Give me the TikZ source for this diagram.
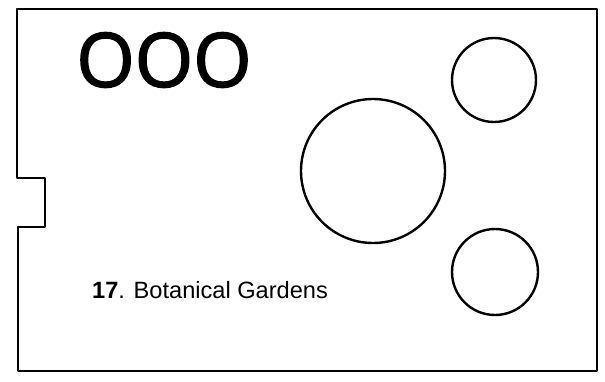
\documentclass[tikz,border=0pt]{standalone}
\usepackage{fontspec}
\setmainfont{Liberation Sans}
\newfontfamily\headfont[FakeBold=2]{Open Sans}
\usetikzlibrary{positioning}

\begin{document}
\begin{tikzpicture}[x=1pt,y=-1pt]
    \useasboundingbox (0,0) rectangle (605,381);
    % outline of the plot with the notch on the left
    \draw[line width=2.2pt,line join=round] (17,9) -- (597,9) -- (597,371) -- (18,371)
    -- (18,227) -- (45,227) -- (45,178) -- (17,178) -- cycle;
    \node [circle,draw,line width=2.4pt,minimum size=144pt] (pond) at (373,171) {};
    \node [circle,draw,line width=2.4pt,minimum size=84pt] (upper) at (494,80) {};
    \node [circle,draw,line width=2.4pt,minimum size=86pt] (lower) at (495,272) {};
    \node [font=\headfont\fontsize{75}{75}\selectfont,inner sep=0pt] (ooo) at (164,60)
    {OOO};
    \node [font=\fontsize{23.6}{24}\selectfont,inner sep=0pt,anchor=base west] (name)
    at (92,298) {\textbf{17}. Botanical Gardens};
  \end{tikzpicture}
\end{document}
